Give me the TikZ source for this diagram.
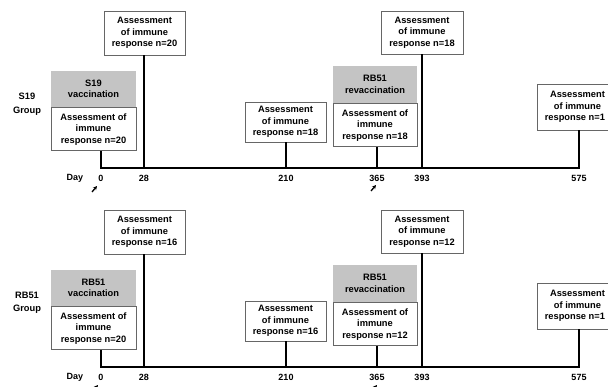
\documentclass[tikz,border=0pt]{standalone}
\usepackage{fontspec}
\setmainfont{Liberation Sans}
\usetikzlibrary{positioning, arrows.meta}

\begin{document}
\begin{tikzpicture}[x=1pt, y=-1pt,
  assess/.style={draw=black!60, line width=0.9pt, fill=white, align=center, font=\bfseries\fontsize{9.3}{11.6}\selectfont, minimum width=81pt, minimum height=44pt, inner sep=1pt},
  vacc/.style={assess, draw=none, fill=black!23, minimum width=85pt, minimum height=36pt},
  vaccassess/.style={assess, minimum width=85pt, minimum height=43pt},
  stem/.style={line width=1.7pt},
  day/.style={font=\bfseries\fontsize{9}{10}\selectfont, inner sep=1pt},
  grp/.style={align=center, font=\bfseries\fontsize{9.3}{13.5}\selectfont, inner sep=1pt},
  kick/.style={-{Stealth[length=4pt, width=4pt]}, line width=1.3pt}
]
  \useasboundingbox (0,0) rectangle (608,387);

  % S19 group
  \node[grp] (g1) at (27,104) {S19\\Group};
  \node[vacc] (vac1) at (93.5,89) {S19\\vaccination};
  \node[vaccassess, below=0pt of vac1] (vacA1) {Assessment of\\immune\\response n=20};
  \node[assess] (a28t) at (144.5,33) {Assessment\\of immune\\response n=20};
  \node[assess, minimum height=40pt] (a210t) at (285.5,122) {Assessment\\of immune\\response n=18};
  \node[vacc, minimum width=84pt, minimum height=37pt] (rev1) at (375,84.5) {RB51\\revaccination};
  \node[vaccassess, minimum width=84pt, below=0pt of rev1] (revA1) {Assessment of\\immune\\response n=18};
  \node[assess, minimum width=82pt, minimum height=43pt] (a393t) at (422,32.5) {Assessment\\of immune\\response n=18};
  \node[assess, minimum height=46pt] (a575t) at (577.5,107) {Assessment\\of immune\\response n=1\hphantom{8}};
  \coordinate (t0a) at (101,168);
  \coordinate (t28a) at (144,168);
  \coordinate (t210a) at (286,168);
  \coordinate (t365a) at (377,168);
  \coordinate (t393a) at (422,168);
  \coordinate (t575a) at (579,168);
  \draw[stem] (vacA1.south -| t0a) -- (t0a) -- (t575a) -- (a575t.south -| t575a);
  \draw[stem] (a28t.south -| t28a) -- (t28a);
  \draw[stem] (a210t.south -| t210a) -- (t210a);
  \draw[stem] (revA1.south -| t365a) -- (t365a);
  \draw[stem] (a393t.south -| t393a) -- (t393a);
  \node[day] (day1) at (75,178) {Day};
  \node[day] (d0a) at (101,178) {0};
  \node[day] (d28a) at (144,178) {28};
  \node[day] (d210a) at (286,178) {210};
  \node[day] (d365a) at (377,178) {365};
  \node[day] (d393a) at (422,178) {393};
  \node[day] (d575a) at (579,178) {575};
  \coordinate (k0a) at (92,192);
  \coordinate (k365a) at (371,191);
  \draw[kick] (k0a) -- ++(5,-6);
  \draw[kick] (k365a) -- ++(5,-6);

  % RB51 group
  \node[grp] (g2) at (27,303) {RB51\\Group};
  \node[vacc] (vac2) at (93.5,288) {RB51\\vaccination};
  \node[vaccassess, below=0pt of vac2] (vacA2) {Assessment of\\immune\\response n=20};
  \node[assess] (a28b) at (144.5,232) {Assessment\\of immune\\response n=16};
  \node[assess, minimum height=40pt] (a210b) at (285.5,321) {Assessment\\of immune\\response n=16};
  \node[vacc, minimum width=84pt, minimum height=37pt] (rev2) at (375,283.5) {RB51\\revaccination};
  \node[vaccassess, minimum width=84pt, below=0pt of rev2] (revA2) {Assessment of\\immune\\response n=12};
  \node[assess, minimum width=82pt, minimum height=43pt] (a393b) at (422,231.5) {Assessment\\of immune\\response n=12};
  \node[assess, minimum height=46pt] (a575b) at (577.5,306) {Assessment\\of immune\\response n=1\hphantom{2}};
  \coordinate (t0b) at (101,367);
  \coordinate (t28b) at (144,367);
  \coordinate (t210b) at (286,367);
  \coordinate (t365b) at (377,367);
  \coordinate (t393b) at (422,367);
  \coordinate (t575b) at (579,367);
  \draw[stem] (vacA2.south -| t0b) -- (t0b) -- (t575b) -- (a575b.south -| t575b);
  \draw[stem] (a28b.south -| t28b) -- (t28b);
  \draw[stem] (a210b.south -| t210b) -- (t210b);
  \draw[stem] (revA2.south -| t365b) -- (t365b);
  \draw[stem] (a393b.south -| t393b) -- (t393b);
  \node[day] (day2) at (75,377) {Day};
  \node[day] (d0b) at (101,377) {0};
  \node[day] (d28b) at (144,377) {28};
  \node[day] (d210b) at (286,377) {210};
  \node[day] (d365b) at (377,377) {365};
  \node[day] (d393b) at (422,377) {393};
  \node[day] (d575b) at (579,377) {575};
  \coordinate (k0b) at (93,391);
  \coordinate (k365b) at (372,391);
  \draw[kick] (k0b) -- ++(5,-6);
  \draw[kick] (k365b) -- ++(5,-6);
\end{tikzpicture}
\end{document}
